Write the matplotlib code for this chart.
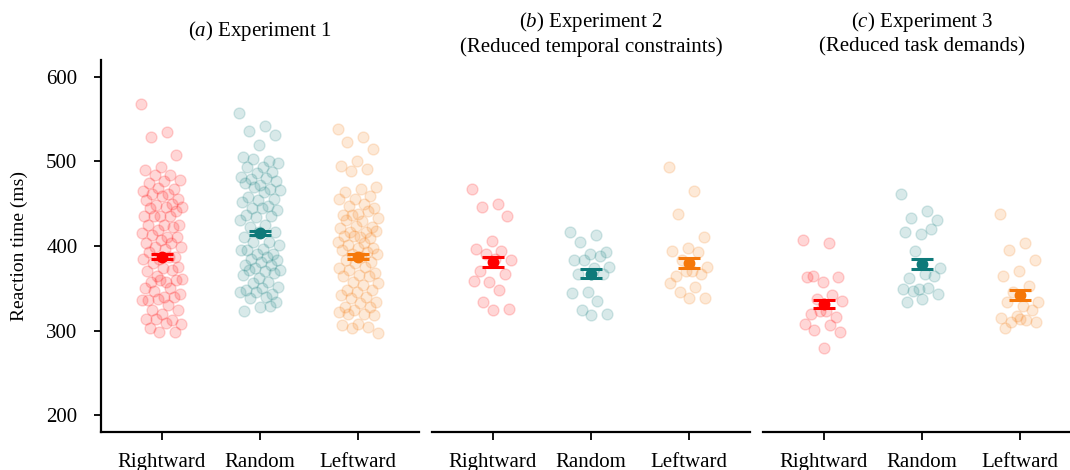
import matplotlib
matplotlib.use("Agg")
import matplotlib.pyplot as plt
import numpy as np

plt.rcParams['font.family'] = ['Liberation Serif', 'DejaVu Serif']
plt.rcParams['mathtext.fontset'] = 'custom'
plt.rcParams['mathtext.rm'] = 'Liberation Serif'
plt.rcParams['mathtext.it'] = 'Liberation Serif:italic'
plt.rcParams['font.size'] = 15

conditions = ['Rightward', 'Random', 'Leftward']
colors = ['#ff0000', '#0e7a7a', '#f5780a']

titles = [r'($a$) Experiment 1',
          '($b$) Experiment 2\n(Reduced temporal constraints)',
          '($c$) Experiment 3\n(Reduced task demands)']

# per-participant reaction times (ms)
exp1_rightward = [568, 535, 529, 508, 494, 490, 484, 484, 478, 477, 475, 467, 469, 465,
                  461, 461, 456, 459, 454, 450, 448, 446, 446, 445, 441, 435, 435, 435,
                  435, 425, 425, 425, 423, 419, 415, 411, 413, 411, 407, 403, 403, 399,
                  399, 397, 393, 387, 385, 385, 387, 380, 375, 374, 370, 372, 364, 361,
                  358, 357, 360, 360, 350, 350, 347, 343, 340, 336, 340, 337, 336, 330,
                  324, 324, 319, 314, 312, 314, 308, 309, 303, 298, 298]
exp1_random = [557, 542, 536, 531, 520, 505, 501, 503, 498, 493, 493, 487, 486, 482,
               481, 479, 477, 472, 474, 468, 470, 466, 464, 458, 456, 454, 452, 447,
               445, 443, 445, 437, 435, 434, 431, 425, 423, 417, 416, 411, 405, 405,
               401, 397, 395, 391, 391, 395, 387, 385, 383, 381, 377, 377, 374, 372,
               370, 372, 368, 362, 366, 358, 356, 352, 350, 348, 343, 346, 346, 340,
               339, 334, 328, 323, 329]
exp1_leftward = [538, 529, 523, 515, 501, 495, 491, 489, 470, 468, 464, 459, 455, 456,
                 450, 447, 445, 438, 437, 441, 437, 433, 429, 431, 423, 424, 421, 417,
                 417, 418, 411, 412, 409, 412, 405, 403, 401, 398, 398, 395, 393, 391,
                 391, 387, 383, 381, 380, 374, 375, 372, 368, 366, 364, 364, 358, 356,
                 354, 348, 348, 346, 342, 340, 338, 334, 332, 328, 328, 324, 322, 320,
                 320, 318, 308, 307, 304, 303, 297]

exp2_rightward = [468, 450, 446, 435, 406, 396, 394, 390, 384, 385, 370, 367, 357, 359,
                  348, 334, 326, 324]
exp2_random = [417, 413, 405, 393, 391, 383, 388, 384, 375, 374, 367, 367, 345, 344,
               335, 324, 319, 318]
exp2_leftward = [493, 465, 438, 411, 398, 394, 393, 383, 375, 370, 365, 367, 371, 356,
                 352, 345, 338, 338]

exp3_rightward = [407, 404, 364, 363, 357, 363, 342, 337, 335, 323, 319, 316, 323, 308,
                  307, 301, 298, 279]
exp3_random = [461, 441, 433, 431, 414, 416, 420, 394, 374, 367, 362, 365, 349, 349,
               350, 347, 343, 337, 334]
exp3_leftward = [438, 404, 395, 384, 371, 364, 353, 346, 334, 329, 334, 324, 317, 315,
                 312, 310, 310, 314, 303]

# condition means and standard errors (ms)
means = [[387.4, 415.6, 387.4],
         [381.0, 367.3, 380.0],
         [331.4, 379.0, 342.0]]
sems = [[2.8, 2.5, 2.8],
        [6.3, 5.5, 6.3],
        [5.1, 5.7, 5.4]]

experiments = [
    [exp1_rightward, exp1_random, exp1_leftward],
    [exp2_rightward, exp2_random, exp2_leftward],
    [exp3_rightward, exp3_random, exp3_leftward],
]

W, H = 1070, 470
fig = plt.figure(figsize=(W / 100, H / 100), dpi=100)

ax_left_px = [101, 432, 763]
ax_w_px = 318
ax_bottom_px = 432
ax_top_px = 60

axes = []
for i, left in enumerate(ax_left_px):
    ax = fig.add_axes([left / W, 1 - ax_bottom_px / H,
                       ax_w_px / W, (ax_bottom_px - ax_top_px) / H])
    axes.append(ax)

for i, ax in enumerate(axes):
    groups = experiments[i]
    for j, vals in enumerate(groups):
        vals = np.asarray(vals, dtype=float)
        # spread points sideways with an even low-discrepancy offset
        offs = ((np.arange(len(vals)) * 0.6180339887) % 1 - 0.5) * 0.42
        ax.scatter(j + offs, vals, s=62, color=colors[j], alpha=0.16,
                   edgecolor=colors[j], linewidth=1.0, zorder=2)
        ax.errorbar(j, means[i][j], yerr=sems[i][j], fmt='o', color=colors[j],
                    markersize=7.5, capsize=8, capthick=2.2, elinewidth=2.5, zorder=4)

    ax.set_xlim(-0.62, 2.62)
    ax.set_ylim(180, 620)
    ax.set_xticks(range(3))
    ax.set_xticklabels(conditions)
    ax.spines['top'].set_visible(False)
    ax.spines['right'].set_visible(False)
    ax.spines['bottom'].set_linewidth(1.6)
    ax.spines['left'].set_linewidth(1.6)
    ax.tick_params(axis='x', length=6, width=1.3, pad=9)
    ax.tick_params(axis='y', length=5, width=1.3, pad=12)
    ax.set_yticks([200, 300, 400, 500, 600])
    if i > 0:
        ax.spines['left'].set_visible(False)
        ax.tick_params(axis='y', left=False, labelleft=False)

    cx = (ax_left_px[i] + ax_w_px / 2) / W
    cy = 1 - (31 if i == 0 else 33.5) / H
    fig.text(cx, cy, titles[i], ha='center', va='center', multialignment='center')

axes[0].set_ylabel('Reaction time (ms)', fontsize=14, labelpad=13)

fig.savefig('out.png', dpi=100)
